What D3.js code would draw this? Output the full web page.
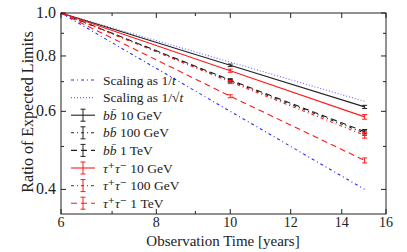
<!DOCTYPE html>
<html>
<head>
<meta charset="utf-8">
<script src="https://cdn.jsdelivr.net/npm/d3@7"></script>
<style>
body { margin: 0; background: #fff; }
text { font-family: "Liberation Serif", "DejaVu Serif", serif; fill: #222; }
</style>
</head>
<body>
<svg width="407" height="252"></svg>
<script>
// observation times (years) where points were computed
var times = [6, 10, 15];
var errTimes = [10, 15];

// ratio of expected limits, one array per curve
var scaleInvT = [1.0, 0.6, 0.4];
var scaleInvSqrtT = [1.0, 0.775, 0.632];
var bb10GeV = [1.0, 0.762, 0.614];
var bb100GeV = [1.0, 0.703, 0.536];
var bb1TeV = [1.0, 0.706, 0.540];
var tau10GeV = [1.0, 0.741, 0.583];
var tau100GeV = [1.0, 0.699, 0.530];
var tau1TeV = [1.0, 0.649, 0.465];
// error sizes at 10 and 15 years
var bb10Err = [0.005, 0.005];
var bb100Err = [0.005, 0.006];
var bb1TeVErr = [0.005, 0.006];
var tau10Err = [0.006, 0.007];
var tau100Err = [0.006, 0.008];
var tau1TeVErr = [0.005, 0.006];

// legend labels as [math part, plain part]
var labels = [['Scaling as 1/', 't'], ['Scaling as 1/\u221A', 't'], ['bb\u0304', ' 10 GeV'], ['bb\u0304', ' 100 GeV'], ['bb\u0304', ' 1 TeV'],
	['\u03C4\u207A\u03C4\u207B', ' 10 GeV'], ['\u03C4\u207A\u03C4\u207B', ' 100 GeV'], ['\u03C4\u207A\u03C4\u207B', ' 1 TeV']];

var xTicks = [6, 7, 8, 9, 10, 12, 14, 16];
var xTickLabels = [6, 8, 10, 12, 14, 16];
var yTicks = [0.4, 0.5, 0.6, 0.7, 0.8, 0.9, 1.0];
var yTickLabels = [0.4, 0.6, 0.8, 1.0];

function main() {
	var svg = d3.select('svg');
	var left = 61, right = 386, top = 13, bottom = 214;

	var x = d3.scaleLog().domain([6, 16]).range([left, right]);
	var y = d3.scaleLog().domain([0.352, 1.0]).range([bottom, top]);

	var blue = '#2b2bff', black = '#222', red = '#ff1a1a';
	var dashed = '6,4', dashdot = '3,3,1,3', dotted = '1,2';

	var series = [
		{ v: scaleInvT, color: blue, dash: dashdot, err: null },
		{ v: scaleInvSqrtT, color: '#6a6aff', dash: dotted, err: null },
		{ v: bb10GeV, color: black, dash: null, err: bb10Err },
		{ v: bb100GeV, color: black, dash: dashdot, err: bb100Err },
		{ v: bb1TeV, color: black, dash: dashed, err: bb1TeVErr },
		{ v: tau10GeV, color: red, dash: null, err: tau10Err },
		{ v: tau100GeV, color: red, dash: dashdot, err: tau100Err },
		{ v: tau1TeV, color: red, dash: dashed, err: tau1TeVErr }
	];

	var line = d3.line()
		.x(function (d, i) { return x(times[i]); })
		.y(function (d) { return y(d); });

	var plot = svg.append('g');
	series.forEach(function (s) {
		plot.append('path')
			.attr('d', line(s.v))
			.attr('fill', 'none')
			.attr('stroke', s.color)
			.attr('stroke-width', 1.1)
			.attr('stroke-dasharray', s.dash);
		if (s.err) {
			errTimes.forEach(function (t, j) {
				var val = s.v[j + 1], e = s.err[j];
				var cx = x(t);
				var g = plot.append('g').attr('stroke', s.color).attr('stroke-width', 1);
				g.append('line').attr('x1', cx).attr('x2', cx).attr('y1', y(val - e)).attr('y2', y(val + e));
				g.append('line').attr('x1', cx - 2.5).attr('x2', cx + 2.5).attr('y1', y(val - e)).attr('y2', y(val - e));
				g.append('line').attr('x1', cx - 2.5).attr('x2', cx + 2.5).attr('y1', y(val + e)).attr('y2', y(val + e));
			});
		}
	});

	// frame
	svg.append('rect')
		.attr('x', left).attr('y', top)
		.attr('width', right - left).attr('height', bottom - top)
		.attr('fill', 'none').attr('stroke', '#222').attr('stroke-width', 1);

	// ticks, inward on all four sides
	var ticks = svg.append('g').attr('stroke', '#222').attr('stroke-width', 1);
	xTicks.forEach(function (t) {
		var len = xTickLabels.indexOf(t) >= 0 ? 5 : 3;
		ticks.append('line').attr('x1', x(t)).attr('x2', x(t)).attr('y1', bottom).attr('y2', bottom - len);
		ticks.append('line').attr('x1', x(t)).attr('x2', x(t)).attr('y1', top).attr('y2', top + len);
	});
	yTicks.forEach(function (t) {
		var len = yTickLabels.indexOf(t) >= 0 ? 5 : 3;
		ticks.append('line').attr('y1', y(t)).attr('y2', y(t)).attr('x1', left).attr('x2', left + len);
		ticks.append('line').attr('y1', y(t)).attr('y2', y(t)).attr('x1', right).attr('x2', right - len);
	});

	svg.append('g').selectAll('text')
		.data(xTickLabels).enter().append('text')
		.attr('x', function (d) { return x(d); })
		.attr('y', 227)
		.attr('text-anchor', 'middle')
		.style('font-size', '14px')
		.text(function (d) { return d; });

	svg.append('g').selectAll('text')
		.data(yTickLabels).enter().append('text')
		.attr('x', left - 5)
		.attr('y', function (d) { return y(d) + 5; })
		.attr('text-anchor', 'end')
		.style('font-size', '16px')
		.text(function (d) { return d.toFixed(1); });

	svg.append('text')
		.attr('x', 223)
		.attr('y', 246)
		.attr('text-anchor', 'middle')
		.style('font-size', '15px')
		.text('Observation Time [years]');

	svg.append('text')
		.attr('transform', 'translate(33,' + 112 + ') rotate(-90)')
		.attr('text-anchor', 'middle')
		.style('font-size', '16px')
		.text('Ratio of Expected Limits');

	// legend
	var leg = svg.append('g');
	series.forEach(function (s, i) {
		var ly = 80 + i * 17.6;
		var row = leg.append('g');
		row.append('line')
			.attr('x1', 71).attr('x2', 95).attr('y1', ly).attr('y2', ly)
			.attr('stroke', s.color).attr('stroke-width', 1.1)
			.attr('stroke-dasharray', s.dash);
		if (s.err) {
			row.append('line').attr('x1', 83).attr('x2', 83).attr('y1', ly - 6).attr('y2', ly + 6)
				.attr('stroke', s.color);
			row.append('line').attr('x1', 80.5).attr('x2', 85.5).attr('y1', ly - 6).attr('y2', ly - 6)
				.attr('stroke', s.color);
			row.append('line').attr('x1', 80.5).attr('x2', 85.5).attr('y1', ly + 6).attr('y2', ly + 6)
				.attr('stroke', s.color);
		}
		var txt = row.append('text')
			.attr('x', 103).attr('y', ly + 4.5)
			.style('font-size', '13.5px');
		if (i < 2) {
			txt.append('tspan').text(labels[i][0]);
			txt.append('tspan').style('font-style', 'italic').text(labels[i][1]);
		} else {
			txt.append('tspan').style('font-style', 'italic').text(labels[i][0]);
			txt.append('tspan').text(labels[i][1]);
		}
	});
}
main();
</script>
</body>
</html>
